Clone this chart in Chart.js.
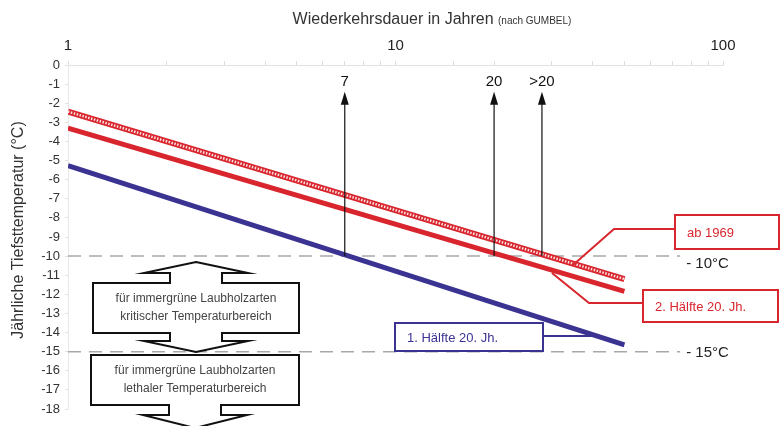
<!DOCTYPE html>
<html>
<head>
<meta charset="utf-8">
<script src="https://cdn.jsdelivr.net/npm/chart.js@4/dist/chart.umd.min.js"></script>
<style>
  html, body { margin: 0; padding: 0; background: #fff; }
  #wrap { width: 781px; height: 426px; }
</style>
</head>
<body>
<div id="wrap"><canvas id="chart" width="781" height="426"></canvas></div>
<script>
/* ---------- data ---------- */
const years = [1, 50];
const firstHalf = [-5.27, -14.65];   // 1. Hälfte 20. Jh.
const secondHalf = [-3.3, -11.85];   // 2. Hälfte 20. Jh.
const since1969 = [-2.44, -11.2];    // ab 1969

const limitYears = [1, 74];
const criticalLimit = -10;
const lethalLimit = -15;

const arrowYears = [7, 20, 28];
const arrowLabels = ['7', '20', '>20'];
const arrowTop = -1.4;

const xTickLabels = [1, 10, 100];
const yMin = -18;
const yMax = 0;

const FONT = '"Liberation Sans", Arial, Helvetica, sans-serif';
const RED = '#d9262e';
const BLUE = '#3b3392';

function pts(xs, ys) {
    return xs.map((x, i) => ({ x: x, y: ys[i] }));
}

/* ---------- decorations ---------- */
function doubleArrowBox(ctx, b) {
    const cx = (b.left + b.right) / 2;
    ctx.beginPath();
    if (b.topTip != null) {
        ctx.moveTo(cx, b.topTip);
        ctx.lineTo(cx + 52, b.topBase);
        ctx.lineTo(cx + 26, b.topBase);
        ctx.lineTo(cx + 26, b.top);
    } else {
        ctx.moveTo(cx + 26, b.top);
    }
    ctx.lineTo(b.right, b.top);
    ctx.lineTo(b.right, b.bottom);
    ctx.lineTo(cx + 26, b.bottom);
    ctx.lineTo(cx + 26, b.botBase);
    ctx.lineTo(cx + 52, b.botBase);
    ctx.lineTo(cx, b.botTip);
    ctx.lineTo(cx - 52, b.botBase);
    ctx.lineTo(cx - 26, b.botBase);
    ctx.lineTo(cx - 26, b.bottom);
    ctx.lineTo(b.left, b.bottom);
    ctx.lineTo(b.left, b.top);
    ctx.lineTo(cx - 26, b.top);
    if (b.topTip != null) {
        ctx.lineTo(cx - 26, b.topBase);
        ctx.lineTo(cx - 52, b.topBase);
    }
    ctx.closePath();
    ctx.fillStyle = '#fff';
    ctx.fill();
    ctx.strokeStyle = '#111';
    ctx.lineWidth = 2;
    ctx.stroke();

    ctx.fillStyle = '#444';
    ctx.font = '12px ' + FONT;
    ctx.textAlign = 'center';
    ctx.textBaseline = 'middle';
    const mid = (b.top + b.bottom) / 2;
    ctx.fillText(b.lines[0], cx, mid - 9);
    ctx.fillText(b.lines[1], cx, mid + 9);
}

function labelBox(ctx, box, color, text, connector) {
    ctx.strokeStyle = color;
    ctx.lineWidth = 2;
    ctx.beginPath();
    connector.forEach((p, i) => i ? ctx.lineTo(p[0], p[1]) : ctx.moveTo(p[0], p[1]));
    ctx.stroke();

    ctx.fillStyle = '#fff';
    ctx.fillRect(box[0], box[1], box[2], box[3]);
    ctx.strokeRect(box[0], box[1], box[2], box[3]);

    ctx.fillStyle = color;
    ctx.font = '13px ' + FONT;
    ctx.textAlign = 'left';
    ctx.textBaseline = 'middle';
    ctx.fillText(text, box[0] + 12, box[1] + box[3] / 2 + 1);
}

const decorations = {
    id: 'decorations',
    afterDatasetsDraw(chart) {
        const ctx = chart.ctx;
        const xs = chart.scales.x;
        const ys = chart.scales.y;
        ctx.save();

        // arrows with return periods
        arrowYears.forEach((yr, i) => {
            const x = xs.getPixelForValue(yr);
            const yBase = ys.getPixelForValue(criticalLimit);
            const yTip = ys.getPixelForValue(arrowTop);
            ctx.strokeStyle = '#111';
            ctx.lineWidth = 1.2;
            ctx.beginPath();
            ctx.moveTo(x, yBase);
            ctx.lineTo(x, yTip + 10);
            ctx.stroke();
            ctx.fillStyle = '#111';
            ctx.beginPath();
            ctx.moveTo(x, yTip);
            ctx.lineTo(x + 4, yTip + 13);
            ctx.lineTo(x - 4, yTip + 13);
            ctx.closePath();
            ctx.fill();
            ctx.font = '15px ' + FONT;
            ctx.textAlign = 'center';
            ctx.textBaseline = 'middle';
            ctx.fillText(arrowLabels[i], x, yTip - 10);
        });

        // limit labels
        ctx.fillStyle = '#222';
        ctx.font = '15px ' + FONT;
        ctx.textAlign = 'left';
        ctx.textBaseline = 'middle';
        const xEnd = xs.getPixelForValue(limitYears[1]);
        ctx.fillText('- 10°C', xEnd + 6, ys.getPixelForValue(criticalLimit) + 8);
        ctx.fillText('- 15°C', xEnd + 6, ys.getPixelForValue(lethalLimit) + 1);

        // range boxes
        doubleArrowBox(ctx, {
            left: 93, right: 299, top: 283, bottom: 333,
            topTip: 262, topBase: 273, botBase: 341, botTip: 352,
            lines: ['für immergrüne Laubholzarten', 'kritischer Temperaturbereich']
        });
        doubleArrowBox(ctx, {
            left: 91, right: 299, top: 355, bottom: 405,
            topTip: null, botBase: 415, botTip: 428,
            lines: ['für immergrüne Laubholzarten', 'lethaler Temperaturbereich']
        });

        // series labels
        labelBox(ctx, [675, 215, 104, 34], RED, 'ab 1969',
            [[675, 229], [614, 229], [573, 265]]);
        labelBox(ctx, [643, 290, 135, 32], RED, '2. Hälfte 20. Jh.',
            [[643, 303], [589, 303], [552, 273]]);
        labelBox(ctx, [395, 323, 148, 28], BLUE, '1. Hälfte 20. Jh.',
            [[543, 336], [592, 336]]);

        // axis titles
        ctx.fillStyle = '#333';
        ctx.textBaseline = 'alphabetic';
        ctx.font = '16px ' + FONT;
        const main = 'Wiederkehrsdauer in Jahren ';
        const sub = '(nach GUMBEL)';
        const w1 = ctx.measureText(main).width;
        ctx.font = '10px ' + FONT;
        const w2 = ctx.measureText(sub).width;
        const start = 432 - (w1 + w2) / 2;
        ctx.font = '16px ' + FONT;
        ctx.textAlign = 'left';
        ctx.fillText(main, start, 24);
        ctx.font = '10px ' + FONT;
        ctx.fillText(sub, start + w1, 24);

        ctx.translate(19, 230);
        ctx.rotate(-Math.PI / 2);
        ctx.font = '16px ' + FONT;
        ctx.textAlign = 'center';
        ctx.textBaseline = 'middle';
        ctx.fillText('Jährliche Tiefsttemperatur (°C)', 0, 0);

        ctx.restore();
    }
};

/* ---------- chart ---------- */
new Chart(document.getElementById('chart'), {
    type: 'line',
    data: {
        datasets: [
            {
                label: 'ab 1969 (Muster)',
                data: pts(years, since1969),
                borderColor: '#fbe3e4',
                borderWidth: 2.5,
                borderDash: [1.5, 1.5],
                pointRadius: 0,
                order: 1
            },
            {
                label: 'ab 1969',
                data: pts(years, since1969),
                borderColor: RED,
                borderWidth: 6,
                pointRadius: 0,
                order: 2
            },
            {
                label: '2. Hälfte 20. Jh.',
                data: pts(years, secondHalf),
                borderColor: RED,
                borderWidth: 5,
                pointRadius: 0,
                order: 3
            },
            {
                label: '1. Hälfte 20. Jh.',
                data: pts(years, firstHalf),
                borderColor: BLUE,
                borderWidth: 5,
                pointRadius: 0,
                order: 4
            },
            {
                label: '-10',
                data: limitYears.map(x => ({ x: x, y: criticalLimit })),
                borderColor: '#a8a8a8',
                borderWidth: 1.5,
                borderDash: [13, 8],
                pointRadius: 0,
                order: 10
            },
            {
                label: '-15',
                data: limitYears.map(x => ({ x: x, y: lethalLimit })),
                borderColor: '#a8a8a8',
                borderWidth: 1.5,
                borderDash: [13, 8],
                pointRadius: 0,
                order: 10
            }
        ]
    },
    options: {
        responsive: false,
        animation: false,
        layout: { padding: { top: 0, right: 58, bottom: 17, left: 0 } },
        plugins: {
            legend: { display: false },
            tooltip: { enabled: false }
        },
        scales: {
            x: {
                type: 'logarithmic',
                position: 'top',
                min: 1,
                max: 100,
                afterFit: (scale) => { scale.height = 65; },
                ticks: {
                    autoSkip: false,
                    maxRotation: 0,
                    padding: 6,
                    color: '#222',
                    font: { family: FONT, size: 15 },
                    callback: (v) => xTickLabels.includes(Number(v)) ? String(v) : ''
                },
                grid: { drawOnChartArea: false, tickLength: 4, color: '#dcdcdc' },
                border: { color: '#e2e2e2' }
            },
            y: {
                min: yMin,
                max: yMax,
                afterFit: (scale) => { scale.width = 68; },
                ticks: {
                    stepSize: 1,
                    padding: 5,
                    color: '#333',
                    font: { family: FONT, size: 13 }
                },
                grid: { drawOnChartArea: false, tickLength: 3, color: '#e2e2e2' },
                border: { color: '#e8e8e8' }
            }
        }
    },
    plugins: [decorations]
});
</script>
</body>
</html>
